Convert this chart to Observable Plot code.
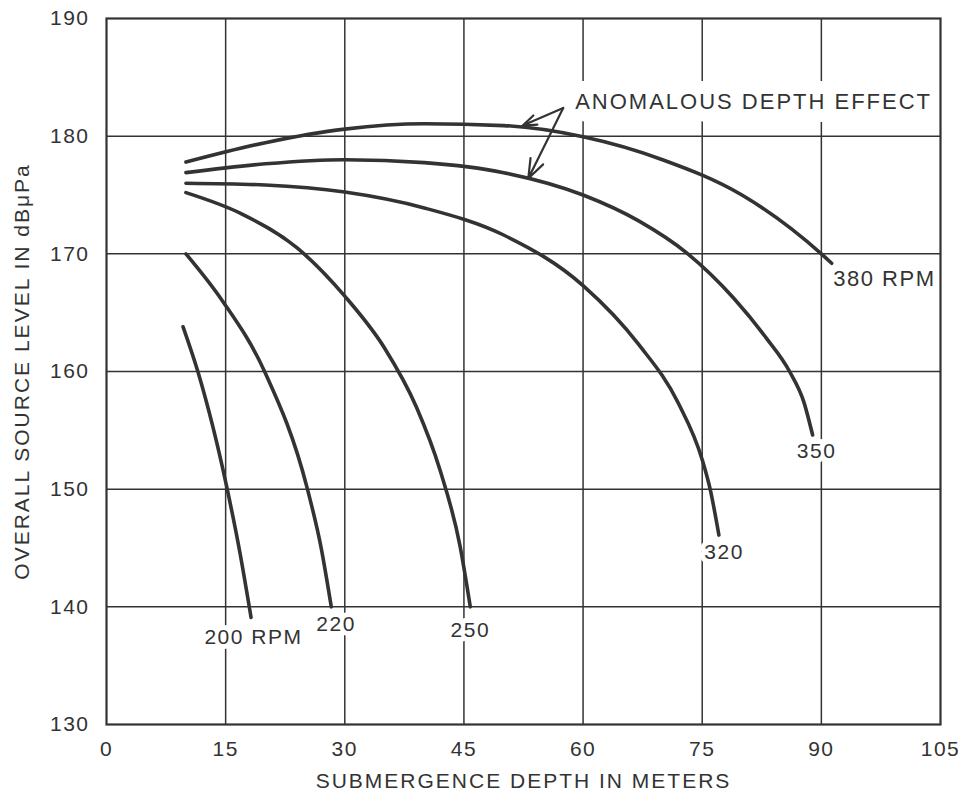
<!DOCTYPE html>
<html><head><meta charset="utf-8">
<script src="https://cdn.jsdelivr.net/npm/d3@7"></script>
<script src="https://cdn.jsdelivr.net/npm/@observablehq/plot@0.6"></script>
<style>
body{margin:0;background:#fff;}
#chart svg{font-family:"Liberation Sans",Arial,Helvetica,sans-serif;}
</style>
</head><body><div id="chart"></div>
<script>
// [depth m, source level dB]
const rpm200 = [[9.64,163.8],[11.5,160],[15.2,150],[16.8,144.6],[18.2,139.1]];
const rpm220 = [[10,170],[14.6,166],[19.9,160],[25.3,150],[27.0,145.1],[28.3,140]];
const rpm250 = [[10,175.2],[17,173.4],[24,170.5],[30,166.4],[35,162.0],[39,157.0],[42,151.6],[44.5,145.2],[45.8,140]];
const rpm320 = [[10,176.0],[20,175.85],[30,175.25],[40,173.9],[50,171.6],[60,167.3],[67,162.3],[72,157.3],[75,152.5],[76,150.0],[77.1,146.1]];
const rpm350 = [[10,176.9],[20,177.65],[30,178.0],[40,177.75],[50,176.9],[60,175.0],[67,172.8],[73,170.1],[79,166.2],[83,162.9],[86,160.0],[87.8,157.4],[88.9,154.6]];
const rpm380 = [[10,177.8],[20,179.45],[30,180.6],[40,181.05],[50,180.9],[60,179.95],[70,178.0],[80,175.0],[90,170.0],[91.3,169.2]];

const rpmNames = [200, 220, 250, 320, 350, 380];
const rpmSeries = [rpm200, rpm220, rpm250, rpm320, rpm350, rpm380];

const xTicks = [0, 15, 30, 45, 60, 75, 90, 105];
const yTicks = [130, 140, 150, 160, 170, 180, 190];
const xGrid = [15, 30, 45, 60, 75, 90];
const yGrid = [140, 150, 160, 170, 180];

const labelText = ["200 RPM", "220", "250", "320", "350"];
const labelX = [18.5, 28.9, 45.8, 77.75, 89.4];
const labelY = [137.4, 138.5, 138.0, 144.65, 153.2];

const label380 = {text: "380 RPM", x: 91.5, y: 167.9};
const annotation = {text: "ANOMALOUS DEPTH EFFECT", x: 59.0, y: 182.9};
const arrowFrom = [57.5, 182.4];
const arrowTo = [[52.4, 180.9], [53.1, 176.4]];

const xTitle = "SUBMERGENCE DEPTH IN METERS";
const yTitle = "OVERALL SOURCE LEVEL IN dBμPa";

const lineData = rpmSeries.flatMap((s, i) => s.map(([x, y]) => ({rpm: rpmNames[i], x, y})));
const labels = labelText.map((t, i) => ({text: t, x: labelX[i], y: labelY[i]}));
const arrows = arrowTo.map(([x2, y2]) => ({x1: arrowFrom[0], y1: arrowFrom[1], x2, y2}));

const ink = "#333";

const chart = Plot.plot({
  width: 961,
  height: 794,
  marginLeft: 106,
  marginRight: 21,
  marginTop: 18,
  marginBottom: 70,
  x: {domain: [0, 105]},
  y: {domain: [130, 190]},
  style: {background: "#fff", color: ink},
  marks: [
    Plot.ruleX(xGrid, {stroke: ink, strokeWidth: 1.5}),
    Plot.ruleY(yGrid, {stroke: ink, strokeWidth: 1.5}),
    Plot.axisX(xTicks, {tickSize: 0, tickPadding: 17, fontSize: 21, fill: ink, label: null}),
    Plot.axisY(yTicks, {tickSize: 0, tickPadding: 17, fontSize: 21, fill: ink, label: null}),
    Plot.text(labels, {x: "x", y: "y", text: "text", fontSize: 21, fill: ink, stroke: "white", strokeWidth: 10, textAnchor: "middle"}),
    Plot.text([label380], {x: "x", y: "y", text: "text", fontSize: 22, fill: ink, stroke: "white", strokeWidth: 5, textAnchor: "start"}),
    Plot.text([annotation], {x: "x", y: "y", text: "text", fontSize: 22, fill: ink, stroke: "white", strokeWidth: 26, textAnchor: "start"}),
    Plot.line(lineData, {x: "x", y: "y", z: "rpm", stroke: ink, strokeWidth: 3.6, curve: "monotone-x"}),
    Plot.arrow(arrows, {x1: "x1", y1: "y1", x2: "x2", y2: "y2", stroke: ink, strokeWidth: 2.2, headLength: 14, headAngle: 40}),
    Plot.text([xTitle], {frameAnchor: "bottom", dy: 63, fontSize: 21, fill: ink, textAnchor: "middle"}),
    Plot.text([yTitle], {frameAnchor: "left", dx: -84, rotate: -90, fontSize: 21, fill: ink, textAnchor: "middle"}),
    Plot.frame({stroke: ink, strokeWidth: 2.2})
  ]
});

const svg = d3.select(chart);
svg.selectAll("text").style("letter-spacing", "1.5px");
svg.selectAll("text").filter(function(){ const t = this.textContent; return t === xTitle || t === yTitle || t === annotation.text; }).style("letter-spacing", "2px");
document.getElementById("chart").appendChild(chart);
</script>
</body></html>
